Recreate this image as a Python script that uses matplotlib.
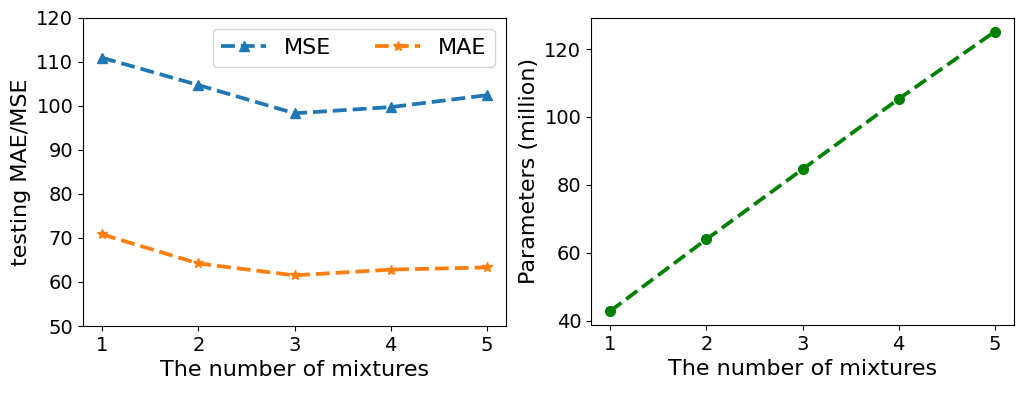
import matplotlib
matplotlib.use("Agg")
import matplotlib.pyplot as plt

mixtures = [1, 2, 3, 4, 5]
mse = [110.9, 104.7, 98.3, 99.7, 102.4]
mae = [70.8, 64.2, 61.5, 62.8, 63.3]
params = [42.9, 64.0, 84.6, 105.3, 125.1]

fs = 16
fig = plt.figure(figsize=(10.24, 3.94), dpi=100)
ax1 = fig.add_axes([83/1024, 1-326/394, (506-83)/1024, (326-17.7)/394])
ax2 = fig.add_axes([591/1024, 1-325/394, (1014-591)/1024, (325-17.7)/394])

ax1.plot(mixtures, mse, '--^', color='#1f77b4', lw=2.7, ms=7, label='MSE')
ax1.plot(mixtures, mae, '--*', color='#ff7f0e', lw=2.7, ms=7, label='MAE')
ax1.set_ylim(50, 120)
ax1.set_xticks(mixtures)
ax1.set_xlabel('The number of mixtures', fontsize=fs)
ax1.set_ylabel('testing MAE/MSE', fontsize=fs)
ax1.tick_params(labelsize=14)
ax1.legend(ncol=2, loc='upper right', fontsize=fs)

ax2.plot(mixtures, params, '--o', color='green', lw=2.7, ms=7)
ax2.set_xticks(mixtures)
ax2.set_xlabel('The number of mixtures', fontsize=fs)
ax2.set_ylabel('Parameters (million)', fontsize=fs)
ax2.tick_params(labelsize=14)

fig.savefig('out.png', dpi=100)
